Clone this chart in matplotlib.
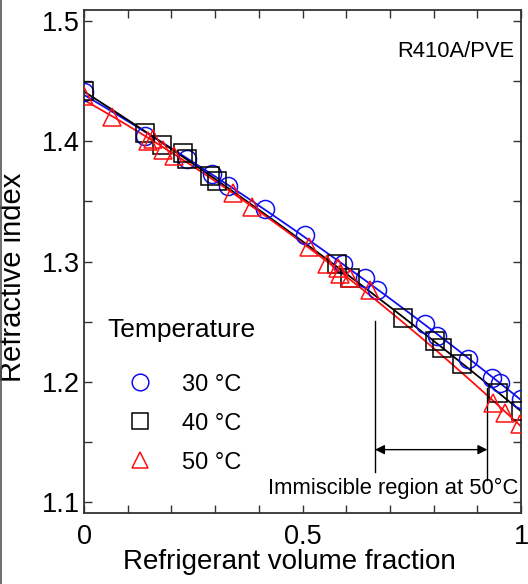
import matplotlib
matplotlib.use("Agg")
import matplotlib.pyplot as plt
import numpy as np
from matplotlib.lines import Line2D

plt.rcParams["font.family"] = ["Liberation Sans", "DejaVu Sans"]

# ── data ───────────────────────────────────────────────────────────────────
x30 = [0.0, 0.140, 0.236, 0.293, 0.330, 0.414, 0.506, 0.593, 0.643, 0.670,
       0.780, 0.808, 0.879, 0.934, 0.952, 1.0]
y30 = [1.441, 1.404, 1.385, 1.373, 1.363, 1.344, 1.322, 1.298, 1.286, 1.276,
       1.248, 1.238, 1.219, 1.203, 1.199, 1.186]

x40 = [0.0, 0.140, 0.178, 0.227, 0.236, 0.288, 0.304, 0.579, 0.609, 0.730,
       0.803, 0.819, 0.865, 0.947, 1.0]
y40 = [1.442, 1.407, 1.397, 1.390, 1.385, 1.371, 1.367, 1.298, 1.286, 1.253,
       1.234, 1.228, 1.215, 1.191, 1.176]

x50 = [0.0, 0.064, 0.146, 0.158, 0.181, 0.206, 0.340, 0.385, 0.515, 0.557,
       0.581, 0.586, 0.609, 0.654, 0.936, 0.963, 0.998]
y50 = [1.438, 1.420, 1.400, 1.402, 1.393, 1.388, 1.357, 1.345, 1.312, 1.298,
       1.295, 1.290, 1.286, 1.276, 1.182, 1.174, 1.165]

labels = ["30 °C", "40 °C", "50 °C"]
immiscible = [0.666, 0.923]

series = [
    (x30, y30, "o", "#1010ee", 13),
    (x40, y40, "s", "black", 12.5),
    (x50, y50, "^", "#ff1010", 13),
]

fig = plt.figure(figsize=(5.28, 5.84), dpi=100)
ax = fig.add_axes([84 / 528, 1 - 513 / 584, 437 / 528, 503 / 584])

xs = np.linspace(0, 1, 200)
for (x, y, m, c, ms), lab in zip(series, labels):
    ax.plot(x, y, ls="none", marker=m, ms=ms, mfc="none", mec=c, mew=1.1,
            label=lab, zorder=3)
    coef = np.polyfit(x, y, 2)
    ax.plot(xs, np.polyval(coef, xs), color=c, lw=1.3, zorder=2)

# immiscible region annotation
ax.plot([immiscible[0]] * 2, [1.2505, 1.125], color="black", lw=1.0)
ax.plot([immiscible[1]] * 2, [1.195, 1.118], color="black", lw=1.0)
ax.annotate("", xy=(immiscible[0], 1.1435), xytext=(immiscible[1], 1.1435),
            arrowprops=dict(arrowstyle="<|-|>", color="black", lw=1.0,
                            mutation_scale=14, shrinkA=0, shrinkB=0))
ax.text(0.707, 1.1065, "Immiscible region at 50°C", fontsize=15.8,
        ha="center", va="baseline")

ax.text(0.985, 1.47, "R410A/PVE", fontsize=15.8, ha="right", va="baseline")

ax.set_xlim(0, 1)
ax.set_ylim(1.0908, 1.5092)
ax.set_xticks([0, 0.5, 1])
ax.set_xticklabels(["0", "0.5", "1"])
ax.set_xticks(np.arange(0, 1.01, 0.1), minor=True)
ax.set_yticks([1.1, 1.2, 1.3, 1.4, 1.5])
ax.set_yticks(np.arange(1.1, 1.501, 0.05), minor=True)
ax.tick_params(which="both", direction="in", top=True, right=True,
               length=6, width=1.0, color="#333333", labelsize=19.5)
ax.tick_params(axis="x", pad=8)
ax.tick_params(axis="y", pad=3)
for sp in ax.spines.values():
    sp.set_linewidth(1.3)
    sp.set_color("#333333")

ax.set_xlabel("Refrigerant volume fraction", fontsize=20)
ax.set_ylabel("Refractive index", fontsize=21)
ax.xaxis.set_label_coords(0.471, -0.072)
ax.yaxis.set_label_coords(-0.13, 0.469)

ax.text(0.053, 0.363, "Temperature", transform=ax.transAxes, fontsize=19,
        ha="left", va="center")
leg = ax.legend(loc="upper left", bbox_to_anchor=(0.041, 0.310),
                frameon=False, fontsize=17, handletextpad=0.9,
                labelspacing=0.72, borderpad=0.2, handlelength=1.8)
for h in leg.legend_handles:
    h.set_markersize(12)

# thin border at the left edge of the figure
fig.add_artist(Line2D([0.002, 0.002], [0, 1], color="#555555", lw=1.2,
                      transform=fig.transFigure))

fig.savefig("out.png", dpi=100)
